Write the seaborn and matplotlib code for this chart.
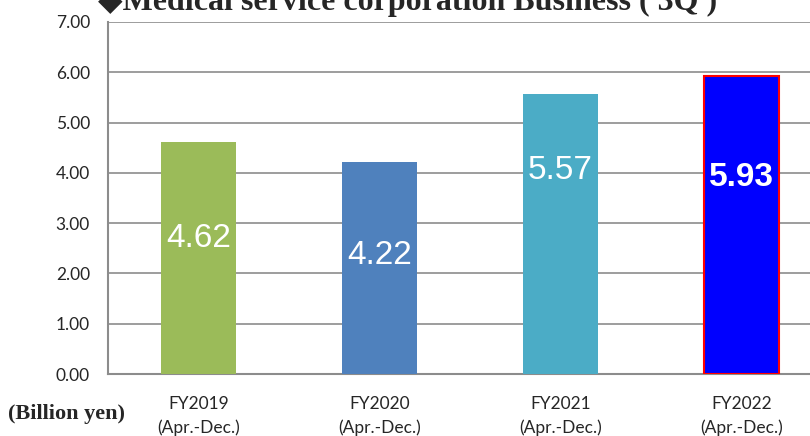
import seaborn as sns
import matplotlib.pyplot as plt
import pandas as pd

categories = ['FY2019\n(Apr.-Dec.)', 'FY2020\n(Apr.-Dec.)', 'FY2021\n(Apr.-Dec.)', 'FY2022\n(Apr.-Dec.)']
values = [4.62, 4.22, 5.57, 5.93]
bar_colors = ['#9BBB59', '#4F81BD', '#4BACC6', '#0000FF']
label_y = [2.7, 2.35, 4.05, 3.9]
y_ticks = [0, 1, 2, 3, 4, 5, 6, 7]

sns.set_style('white')
plt.rcParams['font.family'] = ['Lato', 'DejaVu Sans']

df = pd.DataFrame({'cat': categories, 'val': values})

fig = plt.figure(figsize=(8.1, 4.36), dpi=100)
ax = fig.add_axes([108 / 810, 62 / 436, 724 / 810, 352 / 436])

sns.barplot(data=df, x='cat', y='val', hue='cat', palette=bar_colors,
            legend=False, width=0.41, saturation=1, linewidth=0, ax=ax, zorder=3)

last = ax.patches[-1]
last.set_edgecolor('#FF0000')
last.set_linewidth(1.5)

for i, (v, ly) in enumerate(zip(values, label_y)):
    bold = i == len(values) - 1
    ax.text(i, ly, f'{v:.2f}', ha='center', va='center', color='white',
            fontsize=24, fontweight='bold' if bold else 'normal',
            family='Liberation Sans', zorder=4)

ax.set_ylim(0, 7)
ax.set_xlim(-0.5, 3.5)
ax.set_yticks(y_ticks)
ax.set_yticklabels([f'{t:.2f}' for t in y_ticks], fontsize=12.5)
ax.yaxis.grid(True, color='#8C8C8C', linewidth=1.2, zorder=0)
ax.set_xticks(range(len(categories)))
ax.set_xticklabels(categories, fontsize=12.5, linespacing=1.5)
ax.set_xticks([-0.5, 0.5, 1.5, 2.5, 3.5], minor=True)
ax.tick_params(axis='x', which='major', length=0, pad=16)
ax.tick_params(axis='x', which='minor', length=6, color='#8C8C8C', width=1.2, direction='out')
ax.tick_params(axis='y', length=7, color='#8C8C8C', width=1.2, direction='out', pad=6)
ax.set_xlabel('')
ax.set_ylabel('')

for side in ['top', 'right']:
    ax.spines[side].set_visible(False)
for side in ['left', 'bottom']:
    ax.spines[side].set_color('#8C8C8C')
    ax.spines[side].set_linewidth(1.5)

fig.text(8 / 810, 1 - 414 / 436, '(Billion yen)', fontsize=16, fontweight='bold',
         family='Liberation Serif', ha='left', va='center')
fig.text(408 / 810, 1 - 10 / 436, '\u25c6Medical service corporation Business ( 3Q )',
         fontsize=23, fontweight='bold', family=['Liberation Serif', 'DejaVu Sans'],
         ha='center', va='baseline')

fig.savefig('out.png', dpi=100)
